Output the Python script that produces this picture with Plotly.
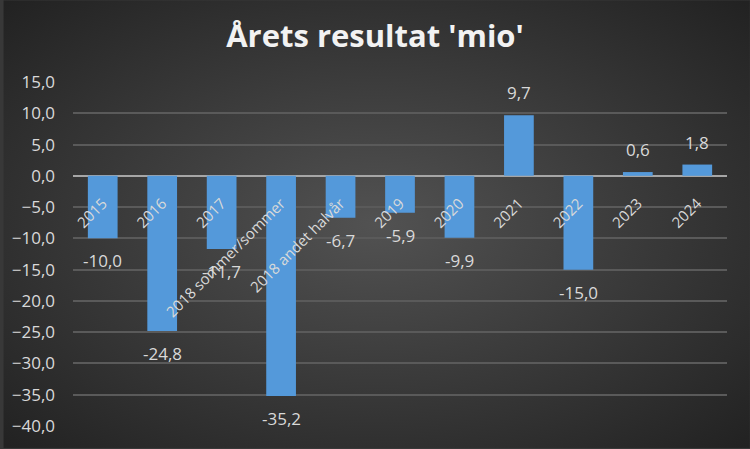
import base64
import plotly.graph_objects as go

categories = ["2015", "2016", "2017", "2018 sommer/sommer", "2018 andet halvår",
              "2019", "2020", "2021", "2022", "2023", "2024"]
values = [-10.0, -24.8, -11.7, -35.2, -6.7, -5.9, -9.9, 9.7, -15.0, 0.6, 1.8]
y_ticks = [15, 10, 5, 0, -5, -10, -15, -20, -25, -30, -35, -40]

W, H = 750, 449
ML, MR, MT, MB = 70, 23, 82, 22
PW, PH = W - ML - MR, H - MT - MB
YMIN, YMAX = -40, 15
FONT = "Open Sans"
TXT = "#d9d9d9"

svg = f'''<svg xmlns="http://www.w3.org/2000/svg" width="{W}" height="{H}" viewBox="0 0 {W} {H}" preserveAspectRatio="none">
<defs><radialGradient id="g" cx="50%" cy="50%" r="70%">
<stop offset="0%" stop-color="#525252"/><stop offset="100%" stop-color="#222222"/>
</radialGradient></defs><rect width="{W}" height="{H}" fill="url(#g)"/></svg>'''
bg_uri = "data:image/svg+xml;base64," + base64.b64encode(svg.encode()).decode()

fig = go.Figure(go.Bar(
    x=categories, y=values,
    marker=dict(color="#5499da", line=dict(width=0)),
    width=0.5,
))

labels = []
for i, v in enumerate(values):
    neg = v < 0
    labels.append(dict(
        x=i, y=v, xref="x", yref="y", showarrow=False,
        text=f"{v:.1f}".replace(".", ","),
        yanchor="top" if neg else "bottom",
        yshift=-9 if neg else 9,
        font=dict(family=FONT, size=17, color=TXT),
    ))

fig.update_layout(
    width=W, height=H,
    margin=dict(l=ML, r=MR, t=MT, b=MB, pad=0),
    paper_bgcolor="#383838", plot_bgcolor="rgba(0,0,0,0)",
    separators=", ",
    showlegend=False,
    annotations=labels,
    title=dict(text="<b>Årets resultat 'mio'</b>", x=0.5, xanchor="center", xref="container",
               y=1 - 36 / H, yanchor="middle",
               font=dict(family=FONT, size=31, color="#f2f2f2")),
    images=[dict(source=bg_uri, xref="paper", yref="paper",
                 x=-ML / PW, y=1 + MT / PH, sizex=W / PW, sizey=H / PH,
                 xanchor="left", yanchor="top", sizing="stretch", layer="below")],
    xaxis=dict(type="category", range=[-0.5, len(categories) - 0.5],
               anchor="free", position=(0 - YMIN) / (YMAX - YMIN),
               tickangle=-45, showgrid=False, showline=False, ticks="",
               tickfont=dict(color=TXT, size=15, family=FONT),
               ticklabelstandoff=15),
    yaxis=dict(range=[YMIN, YMAX], tickvals=y_ticks, tickformat=".1f",
               showgrid=True, gridcolor="#5a5a5a", gridwidth=2,
               zeroline=True, zerolinecolor="#a6a6a6", zerolinewidth=2,
               tickfont=dict(color=TXT, size=17, family=FONT),
               ticklabelstandoff=17),
)

fig.write_html("out.html", config={"displayModeBar": False},
               post_script="document.body.style.margin='0';")
